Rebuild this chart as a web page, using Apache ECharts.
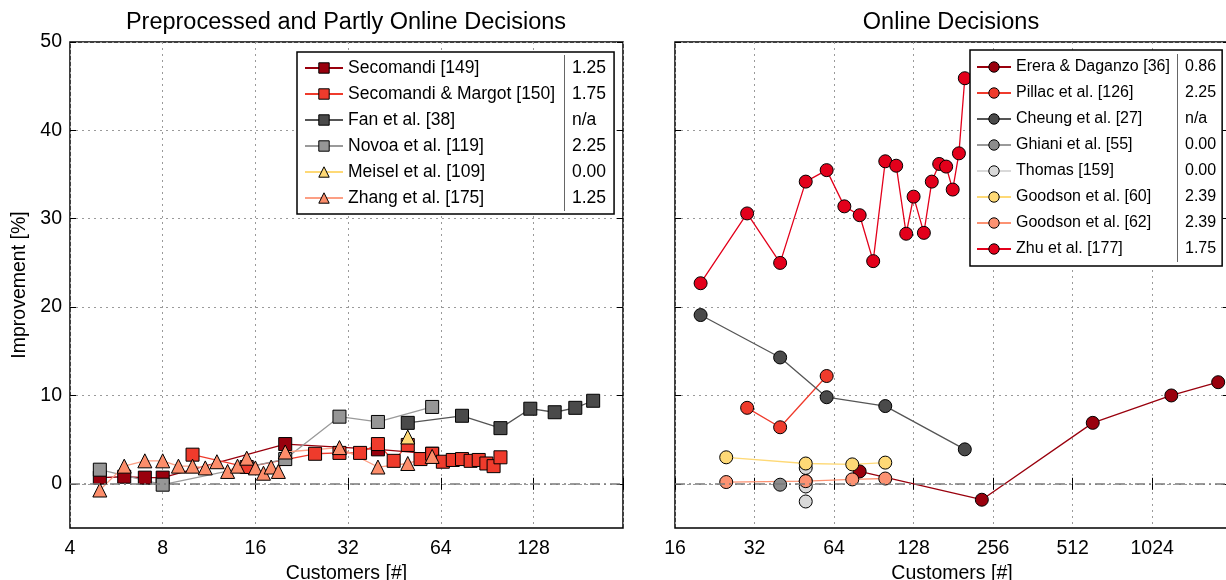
<!DOCTYPE html>
<html><head><meta charset="utf-8">
<script src="https://cdn.jsdelivr.net/npm/echarts@6/dist/echarts.min.js"></script>
<style>html,body{margin:0;padding:0;background:#fff}#c{width:1226px;height:580px}</style>
</head><body><div id="c"></div>
<script>
// ---------- data ----------
const yTicks = [0, 10, 20, 30, 40, 50];
const leftNames = ['Secomandi [149]', 'Secomandi & Margot [150]', 'Fan et al. [38]', 'Novoa et al. [119]', 'Meisel et al. [109]', 'Zhang et al. [175]'];
const leftScores = ['1.25', '1.75', 'n/a', '2.25', '0.00', '1.25'];
const rightNames = ['Erera & Daganzo [36]', 'Pillac et al. [126]', 'Cheung et al. [27]', 'Ghiani et al. [55]', 'Thomas [159]', 'Goodson et al. [60]', 'Goodson et al. [62]', 'Zhu et al. [177]'];
const rightScores = ['0.86', '2.25', 'n/a', '0.00', '0.00', '2.39', '2.39', '1.75'];

const secomandi = [[5, 0.7], [6, 0.8], [7, 0.7], [8, 0.7], [20, 4.5], [40, 3.9], [60, 3.4]];
const secomandiMargot = [[10, 3.3], [15, 1.9], [25, 3.4], [30, 3.5], [35, 3.5], [40, 4.5], [45, 2.6], [50, 4.4], [55, 2.8], [60, 3.4], [65, 2.5], [70, 2.7], [75, 2.8], [80, 2.6], [85, 2.7], [90, 2.3], [95, 2.0], [100, 3.0]];
const fan = [[50, 6.9], [75, 7.7], [100, 6.3], [125, 8.5], [150, 8.1], [175, 8.6], [200, 9.4]];
const novoa = [[5, 1.6], [8, -0.1], [20, 2.8], [30, 7.6], [40, 7.0], [60, 8.7]];
const meisel = [[50, 5.3]];
const zhang = [[5, -0.7], [6, 2.0], [7, 2.6], [8, 2.6], [9, 2.0], [10, 2.0], [11, 1.8], [12, 2.5], [13, 1.4], [14, 2.0], [15, 2.9], [16, 1.8], [17, 1.2], [18, 1.9], [19, 1.4], [20, 3.6], [30, 4.1], [40, 1.9], [50, 2.3], [60, 3.1]];

const erera = [[80, 1.4], [232, -1.8], [610, 6.9], [1210, 10.0], [1820, 11.5]];
const pillac = [[30, 8.6], [40, 6.4], [60, 12.2]];
const cheung = [[20, 19.1], [40, 14.3], [60, 9.8], [100, 8.8], [200, 3.9]];
const ghiani = [[40, -0.1]];
const thomas = [[50, 1.8], [50, 0.3], [50, -0.3], [50, -2.0]];
const goodson60 = [[25, 3.0], [50, 2.3], [75, 2.2], [100, 2.4]];
const goodson62 = [[25, 0.2], [50, 0.3], [75, 0.5], [100, 0.6]];
const zhu = [[20, 22.7], [30, 30.6], [40, 25.0], [50, 34.2], [60, 35.5], [70, 31.4], [80, 30.4], [90, 25.2], [100, 36.5], [110, 36.0], [120, 28.3], [128, 32.5], [140, 28.4], [150, 34.2], [160, 36.2], [170, 35.9], [180, 33.3], [190, 37.4], [200, 45.9]];

// ---------- styling ----------
const FONT = "'Liberation Sans', Arial, Helvetica, sans-serif";
const isPow2 = v => Math.abs(Math.log2(v) - Math.round(Math.log2(v))) < 1e-6;

function xAx(grid, min, max, pos, labels) {
  return {
    type: 'log', logBase: 2, gridIndex: grid, min: min, max: max, position: pos,
    name: labels ? 'Customers [#]' : '', nameLocation: 'middle', nameGap: 34,
    nameTextStyle: { fontFamily: FONT, fontSize: 19.5, color: '#000' },
    axisLine: { show: false },
    axisTick: { show: true, inside: true, length: 6, lineStyle: { color: '#000', width: 1 } },
    axisLabel: { show: labels, margin: 11, fontFamily: FONT, fontSize: 19.5, color: '#000',
      formatter: v => isPow2(v) ? String(Math.round(v)) : '' },
    splitLine: { show: labels, lineStyle: { color: '#9a9a9a', type: [2, 4], width: 1 } },
    minorTick: { show: false }
  };
}
function yAx(grid, pos, labels, split) {
  return {
    type: 'value', gridIndex: grid, min: -5, max: 50, position: pos,
    name: labels ? 'Improvement [%]' : '', nameLocation: 'middle', nameGap: 40, nameRotate: 90,
    nameTextStyle: { fontFamily: FONT, fontSize: 19.5, color: '#000' },
    axisLine: { show: false },
    axisTick: { show: true, inside: true, length: 6, customValues: yTicks, lineStyle: { color: '#000', width: 1 } },
    axisLabel: { show: labels, margin: 8, customValues: yTicks, fontFamily: FONT, fontSize: 19.5, color: '#000' },
    splitLine: { show: split, lineStyle: { color: '#9a9a9a', type: [2, 4], width: 1 } }
  };
}

const zeroLine = {
  silent: true, symbol: 'none', label: { show: false },
  lineStyle: { color: '#7a7a7a', type: [10, 4, 2, 4], width: 1.5 },
  data: [{ yAxis: 0 }]
};

function ser(name, data, color, lineColor, symbol, size, xi, withZero) {
  const s = {
    type: 'line', name: name, data: data, xAxisIndex: xi, yAxisIndex: xi,
    color: color, symbol: symbol, symbolSize: size, showSymbol: true,
    lineStyle: { color: lineColor, width: 1.3 },
    itemStyle: { color: color, borderColor: '#000', borderWidth: 1, opacity: 1 },
    emphasis: { disabled: true }, z: 3
  };
  if (withZero) s.markLine = zeroLine;
  return s;
}

const series = [
  ser(leftNames[0], secomandi, '#99000d', '#99000d', 'rect', 13, 0, true),
  ser(leftNames[1], secomandiMargot, '#ef3b2c', '#ef3b2c', 'rect', 13, 0),
  ser(leftNames[2], fan, '#4a4a4a', '#555555', 'rect', 13, 0),
  ser(leftNames[3], novoa, '#969696', '#9a9a9a', 'rect', 13, 0),
  ser(leftNames[4], meisel, '#fed976', '#fed976', 'triangle', 14, 0),
  ser(leftNames[5], zhang, '#fc8d6a', '#fc9f84', 'triangle', 14, 0),
  ser(rightNames[0], erera, '#99000d', '#99000d', 'circle', 13, 2, true),
  ser(rightNames[1], pillac, '#ef3b2c', '#ef3b2c', 'circle', 13, 2),
  ser(rightNames[2], cheung, '#4a4a4a', '#555555', 'circle', 13, 2),
  ser(rightNames[3], ghiani, '#8c8c8c', '#9a9a9a', 'circle', 13, 2),
  ser(rightNames[4], thomas, '#d9d9d9', '#d9d9d9', 'circle', 13, 2),
  ser(rightNames[5], goodson60, '#fed976', '#fed976', 'circle', 13, 2),
  ser(rightNames[6], goodson62, '#fc9272', '#fc9272', 'circle', 13, 2),
  ser(rightNames[7], zhu, '#e3001b', '#e3001b', 'circle', 13, 2)
];

function legend(names, scores, left, top, fs, aw, iw, pad) {
  return {
    show: true, orient: 'vertical', left: left, top: top, data: names,
    itemGap: 0, itemWidth: iw, itemHeight: 13, padding: pad,
    backgroundColor: '#fff', borderColor: '#000', borderWidth: 1.5,
    selectedMode: false,
    itemStyle: { borderColor: '#000', borderWidth: 1 },
    formatter: n => '{a|' + n + '}{d| }{b|' + scores[names.indexOf(n)] + '}',
    textStyle: {
      fontFamily: FONT, fontSize: fs, color: '#000',
      rich: {
        a: { width: aw, fontFamily: FONT, fontSize: fs, color: '#000' },
        d: { width: 1, height: 26, backgroundColor: '#666', fontSize: 4 },
        b: { padding: [0, 0, 0, 7], width: 38, fontFamily: FONT, fontSize: fs, color: '#000' }
      }
    }
  };
}

const option = {
  animation: false,
  backgroundColor: '#fff',
  grid: [
    { left: 70, top: 42, width: 553, height: 486, outerBoundsMode: 'none', containLabel: false, show: true, borderColor: '#000', borderWidth: 1.5, backgroundColor: 'transparent' },
    { left: 675, top: 42, width: 554, height: 486, outerBoundsMode: 'none', containLabel: false, show: true, borderColor: '#000', borderWidth: 1.5, backgroundColor: 'transparent' }
  ],
  xAxis: [xAx(0, 4, 250, 'bottom', true), xAx(0, 4, 250, 'top', false), xAx(1, 16, 2000, 'bottom', true), xAx(1, 16, 2000, 'top', false)],
  yAxis: [yAx(0, 'left', true, true), yAx(0, 'right', false, false), yAx(1, 'left', false, true), yAx(1, 'right', false, false)],
  legend: [
    legend(leftNames, leftScores, 297, 52, 17.5, 216, 38, [3, 8, 3, 7]),
    legend(rightNames, rightScores, 970, 50, 16, 161, 34, [4, 6, 4, 6])
  ],
  graphic: [
    { type: 'text', x: 346, y: 23, style: { text: 'Preprocessed and Partly Online Decisions', fontFamily: FONT, fontSize: 23.5, fill: '#000', textAlign: 'center', textVerticalAlign: 'middle' } },
    { type: 'text', x: 951, y: 23, style: { text: 'Online Decisions', fontFamily: FONT, fontSize: 23.5, fill: '#000', textAlign: 'center', textVerticalAlign: 'middle' } }
  ],
  series: series
};

const chart = echarts.init(document.getElementById('c'), null, { renderer: 'canvas' });
chart.setOption(option);
</script>
</body></html>
